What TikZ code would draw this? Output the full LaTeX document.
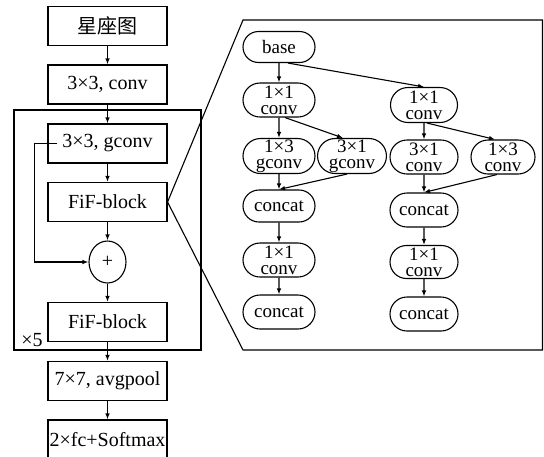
\documentclass[tikz,border=0pt]{standalone}
\usepackage{fontspec}
\setmainfont{Liberation Serif}
\newfontfamily\cjk{Noto Sans CJK SC}
\usetikzlibrary{arrows.meta,shapes.misc,shapes.geometric,calc}
\begin{document}
\begin{tikzpicture}[x=1pt,y=-1pt,line width=1.1pt,
  box/.style={draw,rectangle,minimum width=119pt,minimum height=39pt,inner sep=0pt,font=\fontsize{20}{24}\selectfont},
  pill/.style={draw,rounded rectangle,minimum height=34pt,inner sep=0pt,align=center,font=\fontsize{19}{16}\selectfont},
  arr/.style={-{Latex[length=6pt,width=4.5pt]}}]
\useasboundingbox (0,0) rectangle (544,456);
% left column
\node[box] (star) at (107.5,26) {\cjk 星座图};
\node[box] (conv) at (107.5,84.5) {3×3, conv};
\node[box] (gconv) at (107.5,143.5) {3×3, gconv};
\node[box] (fif1) at (107.5,202) {FiF-block};
\node[draw,ellipse,minimum width=37pt,minimum height=42pt,inner sep=0pt,font=\fontsize{20}{24}\selectfont] (plus) at (107.5,262) {+};
\node[box] (fif2) at (107.5,322) {FiF-block};
\node[box] (avg) at (107.5,381) {7×7, avgpool};
\node[box,minimum height=40pt] (soft) at (107.5,440) {2×fc+Softmax};
\draw (14,110) rectangle (201,350);
\node[font=\fontsize{20}{24}\selectfont,inner sep=0pt] (x5) at (32,340) {×5};
\draw[arr] (star) -- (conv);
\draw[arr] (conv) -- (gconv);
\draw[arr] (gconv) -- (fif1);
\draw[arr] (fif1) -- (plus);
\draw[arr] (plus) -- (fif2);
\draw[arr] (fif2) -- (avg);
\draw[arr] (avg) -- (soft);
\draw[arr] ([xshift=10pt]gconv.west) -- ([xshift=-13pt]gconv.west) |- (plus.west);
% panel
\coordinate (ptl) at (243,20);
\coordinate (ptr) at (542.5,20);
\coordinate (pbr) at (542.5,350);
\coordinate (pbl) at (243,350);
\draw (fif1.east) -- (ptl) -- (ptr) -- (pbr) -- (pbl) -- cycle;
% left branch
\node[pill,minimum width=72pt,minimum height=31pt] (base) at (279,47) {base};
\node[pill,minimum width=72pt] (l1) at (279,100) {1×1\\conv};
\node[pill,minimum width=72pt,minimum height=35pt] (l13) at (279,156) {1×3\\gconv};
\node[pill,minimum width=64pt,minimum height=35pt] (l31) at (352,156) {3×1\\gconv};
\node[pill,minimum width=72pt,minimum height=32pt] (lc) at (279,206) {concat};
\node[pill,minimum width=72pt] (l11) at (279,260) {1×1\\conv};
\node[pill,minimum width=72pt] (lc2) at (279,312) {concat};
% right branch
\node[pill,minimum width=67pt,minimum height=35pt] (r1) at (424,105) {1×1\\conv};
\node[pill,minimum width=68pt] (r31) at (424,157) {3×1\\conv};
\node[pill,minimum width=64pt] (r13) at (503,157) {1×3\\conv};
\node[pill,minimum width=68pt] (rc) at (424,210) {concat};
\node[pill,minimum width=68pt,minimum height=33pt] (r11) at (424,262) {1×1\\conv};
\node[pill,minimum width=68pt] (rc2) at (424,314) {concat};
\draw[arr] (base) -- (l1);
\draw[arr] ([xshift=9pt]base.south) -- (r1.north);
\draw[arr] (l1) -- (l13);
\draw[arr] ([xshift=6pt]l1.south) -- ([xshift=-9pt]l31.north);
\draw[arr] (l13) -- (lc);
\draw[arr] ([xshift=-5pt]l31.south) -- (lc.north);
\draw[arr] (lc) -- (l11);
\draw[arr] (l11) -- (lc2);
\draw[arr] (r1) -- (r31);
\draw[arr] ([xshift=3pt]r1.south) -- ([xshift=-8pt]r13.north);
\draw[arr] (r31) -- (rc);
\draw[arr] ([xshift=-6pt]r13.south) -- (rc.north);
\draw[arr] (rc) -- (r11);
\draw[arr] (r11) -- (rc2);
\end{tikzpicture}
\end{document}
